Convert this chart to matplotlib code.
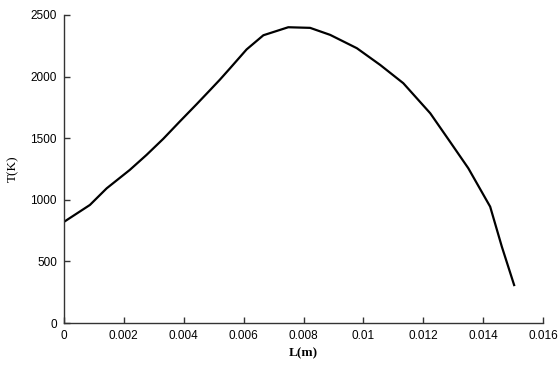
import matplotlib
matplotlib.use('Agg')
from matplotlib import pyplot as plt

# values
L = [0.0, 0.00087, 0.00143, 0.0022, 0.00276, 0.00332, 0.00387, 0.00443,
     0.00488, 0.00521, 0.00554, 0.0061, 0.00666, 0.00749, 0.00822, 0.00889,
     0.00978, 0.01056, 0.01133, 0.01223, 0.01289, 0.0135, 0.01423, 0.01462,
     0.01503]
T = [820, 958, 1093, 1242, 1364, 1495, 1635, 1775,
     1890, 1975, 2065, 2220, 2335, 2400, 2395, 2338,
     2230, 2094, 1946, 1702, 1471, 1256, 944, 619,
     308]

xticks = [0, 0.002, 0.004, 0.006, 0.008, 0.01, 0.012, 0.014, 0.016]
xticklabels = ['0', '0.002', '0.004', '0.006', '0.008', '0.01', '0.012', '0.014', '0.016']
yticks = [0, 500, 1000, 1500, 2000, 2500]

fig = plt.figure(figsize=(5.6, 3.73), dpi=100)
ax = fig.add_axes([0.114, 0.134, 0.856, 0.826])
ax.plot(L, T, color='black', lw=1.6)

ax.set_xlim(0, 0.016)
ax.set_ylim(0, 2500)
ax.set_xticks(xticks)
ax.set_xticklabels(xticklabels)
ax.set_yticks(yticks)
for s in ['top', 'right']:
    ax.spines[s].set_visible(False)
for s in ['left', 'bottom']:
    ax.spines[s].set_color('#333333')
    ax.spines[s].set_linewidth(1.0)
ax.tick_params(direction='in', length=4, width=1, color='#333333',
               labelsize=8.5, pad=5)
for lab in ax.get_xticklabels() + ax.get_yticklabels():
    lab.set_fontfamily('Liberation Sans')

ax.set_xlabel('L(m)', fontfamily='Liberation Serif', fontweight='bold',
              fontsize=9.5, labelpad=4)
ax.set_ylabel('T(K)', fontfamily='Liberation Serif', fontsize=9.5, labelpad=8)

fig.savefig('out.png', dpi=100)
